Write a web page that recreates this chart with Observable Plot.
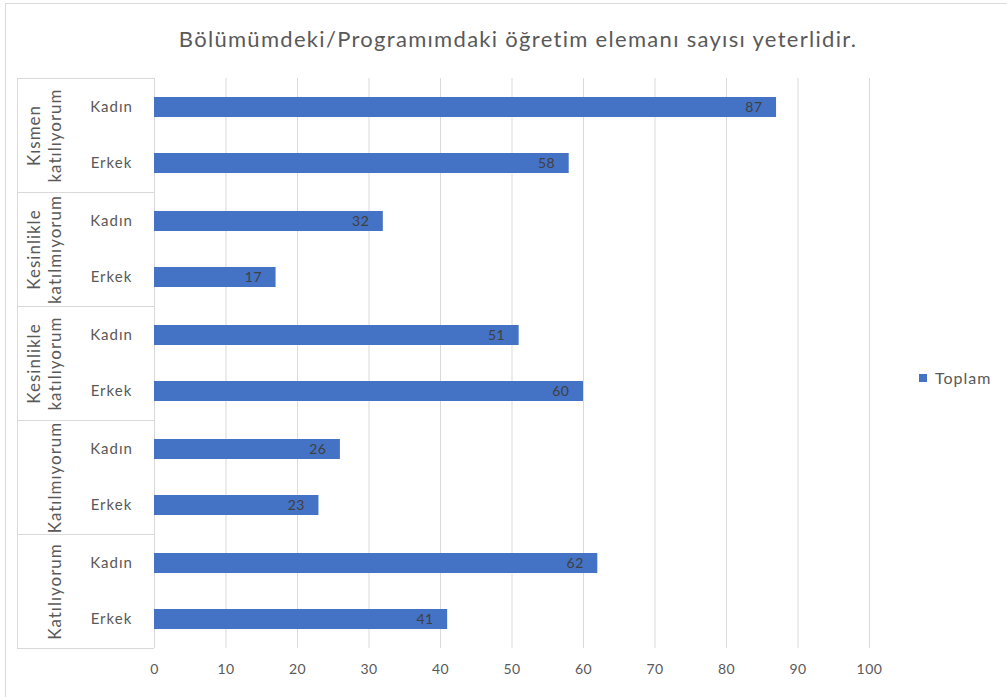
<!DOCTYPE html>
<html>
<head>
<meta charset="utf-8">
<script src="https://cdn.jsdelivr.net/npm/d3@7"></script>
<script src="https://cdn.jsdelivr.net/npm/@observablehq/plot@0.6"></script>
<style>
  html, body { margin: 0; padding: 0; background: #fff; }
  #wrap { position: relative; width: 1007px; height: 697px; overflow: hidden; font-family: Lato, "Open Sans", sans-serif; }
  #frame { position: absolute; left: 5px; top: 3px; width: 1100px; height: 800px; border-left: 1px solid #d9d9d9; border-top: 1px solid #d9d9d9; }
  #title { position: absolute; top: 25px; left: 518px; transform: translateX(-50%); white-space: nowrap; font-size: 22px; letter-spacing: 1.3px; color: #595959; }
  #legend { position: absolute; left: 919px; top: 368px; font-size: 16px; letter-spacing: 1px; color: #595959; display: flex; align-items: center; }
  #legend .sw { width: 8px; height: 8px; background: #4472C4; margin-right: 8px; }
  #chart { position: absolute; left: 0; top: 0; }
</style>
</head>
<body>
<div id="wrap">
  <div id="frame"></div>
  <div id="chart"></div>
  <div id="title"></div>
  <div id="legend"><span class="sw"></span><span id="legendText"></span></div>
</div>
<script>
const titleText = "Bölümümdeki/Programımdaki öğretim elemanı sayısı yeterlidir.";
const seriesName = "Toplam";
const groups = ["Kısmen katılıyorum", "Kesinlikle katılmıyorum", "Kesinlikle katılıyorum", "Katılmıyorum", "Katılıyorum"];
const groupLabels = ["Kısmen\nkatılıyorum", "Kesinlikle\nkatılmıyorum", "Kesinlikle\nkatılıyorum", "Katılmıyorum", "Katılıyorum"];
const genders = ["Kadın", "Erkek"];
const kadinValues = [87, 32, 51, 26, 62];
const erkekValues = [58, 17, 60, 23, 41];
const xTicks = [0, 10, 20, 30, 40, 50, 60, 70, 80, 90, 100];

document.getElementById("title").textContent = titleText;
document.getElementById("legendText").textContent = seriesName;

const rows = [];
groups.forEach((g, i) => {
  rows.push({group: g, gender: genders[0], value: kadinValues[i]});
  rows.push({group: g, gender: genders[1], value: erkekValues[i]});
});
const groupRows = groups.map((g, i) => ({group: g, label: groupLabels[i]}));

const font = "Lato, 'Open Sans', sans-serif";
const chart = Plot.plot({
  width: 1007,
  height: 697,
  marginTop: 78,
  marginBottom: 49,
  marginLeft: 154,
  marginRight: 138,
  style: {fontFamily: font, background: "transparent", overflow: "visible"},
  x: {domain: [0, 100]},
  y: {domain: genders, paddingInner: 0.649, paddingOuter: 0.3246},
  fy: {domain: groups, padding: 0, axis: null},
  marks: [
    Plot.gridX(xTicks, {stroke: "#d9d9d9", strokeOpacity: 1, strokeWidth: 1}),
    Plot.barX(rows, {x: "value", y: "gender", fy: "group", fill: "#4472C4"}),
    Plot.text(rows, {x: "value", y: "gender", fy: "group", text: d => String(d.value), textAnchor: "end", dx: -14, fill: "#404040", fontSize: 14, className: "dlabel"}),
    Plot.axisY({tickSize: 0, tickPadding: 43, textAnchor: "middle", fill: "#595959", fontSize: 15, label: null, className: "ylab"}),
    Plot.axisX({ticks: xTicks, tickSize: 0, tickPadding: 16, fill: "#595959", fontSize: 14, label: null, className: "xlab"}),
    Plot.text(groupRows, {fy: "group", text: "label", frameAnchor: "left", dx: -94, rotate: -90, textAnchor: "middle", lineAnchor: "bottom", fill: "#595959", fontSize: 17, lineHeight: 1.23, className: "glab"})
  ]
});
document.getElementById("chart").appendChild(chart);

const svg = d3.select(chart);
svg.selectAll(".ylab text").style("letter-spacing", "1px");
svg.selectAll(".xlab text").style("letter-spacing", "0.5px");
svg.selectAll(".glab text").style("letter-spacing", "1px");
svg.selectAll(".dlabel text").style("letter-spacing", "0.5px");

// category separators for the grouped axis
const fyScale = chart.scale("fy");
const band = d3.scaleBand().domain(fyScale.domain).range(fyScale.range).padding(0);
const sep = svg.append("g").attr("stroke", "#d9d9d9").attr("stroke-width", 1);
const bounds = fyScale.domain.map(d => band(d)).concat([band(fyScale.domain[fyScale.domain.length - 1]) + band.bandwidth()]);
bounds.forEach(y => {
  sep.append("line").attr("x1", 17).attr("x2", 154).attr("y1", Math.round(y) + 0.5).attr("y2", Math.round(y) + 0.5);
});
sep.append("line").attr("x1", 17.5).attr("x2", 17.5).attr("y1", bounds[0]).attr("y2", bounds[bounds.length - 1]);
</script>
</body>
</html>
